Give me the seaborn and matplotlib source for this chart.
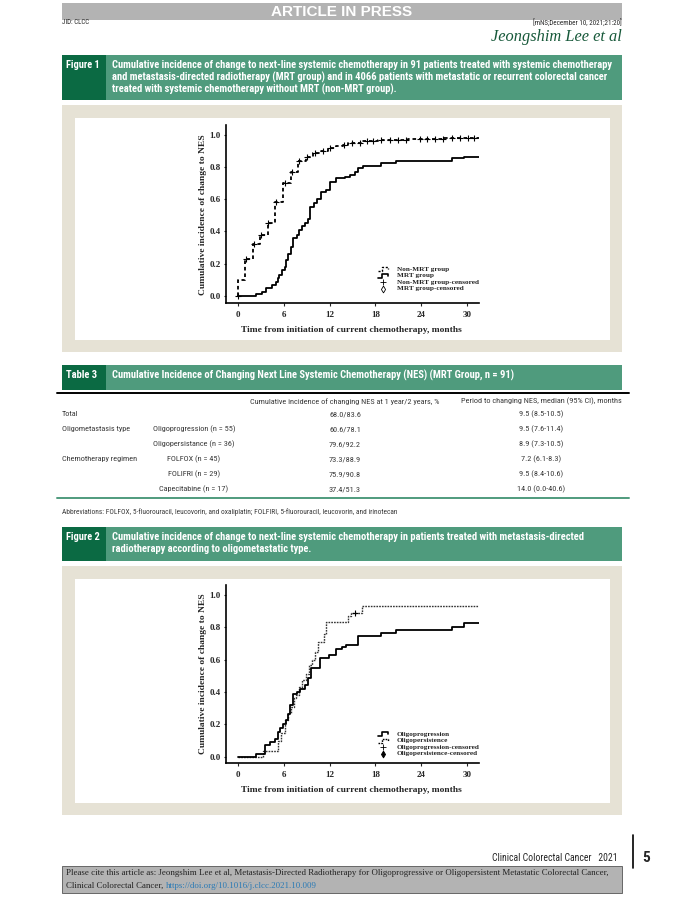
import numpy as np
import pandas as pd
import matplotlib
matplotlib.use("Agg")
import matplotlib.pyplot as plt
from matplotlib.patches import Rectangle
from matplotlib.lines import Line2D
from matplotlib import font_manager
import seaborn as sns

sns.set_style("ticks")
SERIF = ['Liberation Serif', 'DejaVu Serif']
plt.rcParams['font.family'] = SERIF

# pick a condensed sans if one is installed, otherwise Liberation Sans
_fonts = font_manager.fontManager.ttflist
_names = {f.name for f in _fonts}
NARROW_KW = {'family': ['Liberation Sans', 'DejaVu Sans']}
for cand in ['Liberation Sans Narrow', 'Roboto Condensed', 'Open Sans Condensed']:
    if cand in _names:
        NARROW_KW = {'family': [cand, 'DejaVu Sans']}
        break
else:
    for fam in ['Roboto', 'Open Sans', 'DejaVu Sans', 'Noto Sans']:
        if any(f.name == fam and 'condensed' in str(f.stretch) for f in _fonts):
            NARROW_KW = {'family': [fam], 'fontstretch': 'condensed'}
            break

W, H = 680, 897
GREEN = '#4f9b7d'
DKGREEN = '#0b6a43'
BEIGE = '#e6e2d5'
GREY = '#b3b3b3'
TCOL = '#3a3a3a'

# ---- Figure 1 data ----
mrt_t = [0, 2.3, 3.2, 3.7, 4.4, 5.0, 5.2, 5.4, 5.8, 6.1, 6.3, 6.6, 6.9, 7.2, 7.7, 8.0, 8.4,
         8.8, 9.2, 9.5, 10.0, 10.4, 10.9, 11.6, 12.1, 12.9, 14.0, 14.7, 15.3, 15.8, 16.4,
         18.8, 20.7, 28.0, 29.6, 31.6]
mrt_y = [0, 0.01, 0.02, 0.05, 0.065, 0.085, 0.11, 0.13, 0.16, 0.18, 0.22, 0.26, 0.30, 0.36,
         0.38, 0.41, 0.435, 0.455, 0.48, 0.55, 0.575, 0.60, 0.645, 0.655, 0.705, 0.73, 0.74,
         0.75, 0.77, 0.795, 0.81, 0.825, 0.84, 0.855, 0.865, 0.865]
nonmrt_t = [0, 0.05, 0.97, 1.95, 2.9, 3.9, 4.9, 5.95, 6.9, 7.9, 8.9, 9.8, 10.8, 11.8, 12.8,
            13.8, 14.4, 16.2, 18.4, 22.3, 27.0, 31.6]
nonmrt_y = [0, 0.10, 0.23, 0.32, 0.38, 0.455, 0.58, 0.70, 0.77, 0.84, 0.865, 0.885, 0.902,
            0.917, 0.929, 0.94, 0.952, 0.962, 0.97, 0.976, 0.982, 0.982]
nonmrt_cens = [0, 1.05, 2.1, 3.0, 4.0, 5.0, 6.1, 7.1, 8.0, 9.0, 10.1, 11.1, 12.1, 13.9, 14.9,
               16.0, 16.9, 17.7, 18.8, 19.9, 21.0, 22.0, 23.8, 24.8, 25.8, 26.9, 28.0, 29.1,
               30.2, 31.0]

# ---- Figure 2 data ----
prog_t = [0, 2.3, 3.6, 4.2, 4.8, 5.2, 5.5, 5.85, 6.25, 6.5, 6.8, 7.2, 7.8, 8.1, 8.8, 9.2,
          9.55, 10.7, 11.95, 12.8, 13.6, 14.2, 15.8, 18.8, 20.7, 28.0, 29.6, 31.6]
prog_y = [0, 0.015, 0.07, 0.09, 0.11, 0.155, 0.175, 0.20, 0.225, 0.265, 0.32, 0.385, 0.40,
          0.42, 0.445, 0.485, 0.55, 0.61, 0.63, 0.665, 0.68, 0.69, 0.745, 0.765, 0.785, 0.80,
          0.825, 0.825]
pers_t = [0, 3.3, 5.3, 5.7, 6.15, 6.6, 6.95, 7.3, 7.6, 8.0, 8.4, 8.9, 9.3, 9.7, 10.1, 10.5,
          11.3, 11.6, 14.4, 14.8, 16.2, 31.6]
pers_y = [0, 0.035, 0.095, 0.145, 0.225, 0.27, 0.31, 0.36, 0.38, 0.43, 0.475, 0.51, 0.565,
          0.60, 0.65, 0.71, 0.76, 0.835, 0.87, 0.89, 0.93, 0.93]
pers_cens = [15.3]

# ---- Table 3 ----
col_heads = ["Cumulative incidence of changing NES at 1 year/2 years, %",
             "Period to changing NES, median (95% CI), months"]
row_group = ["Total", "Oligometastasis type", "", "Chemotherapy regimen", "", ""]
row_sub = ["", "Oligoprogression (n = 55)", "Oligopersistance (n = 36)", "FOLFOX (n = 45)",
           "FOLIFRI (n = 29)", "Capecitabine (n = 17)"]
cum_inc = ["68.0/83.6", "60.6/78.1", "79.6/92.2", "73.3/88.9", "75.9/90.8", "37.4/51.3"]
median_period = ["9.5 (8.5-10.5)", "9.5 (7.6-11.4)", "8.9 (7.3-10.5)", "7.2 (6.1-8.3)",
                 "9.5 (8.4-10.6)", "14.0 (0.0-40.6)"]

fig = plt.figure(figsize=(6.8, 8.97), dpi=100)
renderer = fig.canvas.get_renderer()


def fx(x):
    return x / W


def fy(y):
    return 1 - y / H


def box(x0, y0, x1, y1, **kw):
    fig.patches.append(Rectangle((fx(x0), fy(y1)), (x1 - x0) / W, (y1 - y0) / H,
                                 transform=fig.transFigure, zorder=-10, **kw))


def txt(x, y, s, **kw):
    kw.setdefault('va', 'center')
    return fig.text(fx(x), fy(y), s, **kw)


def fit_size(s, width, **kw):
    # font size that makes string s about `width` pixels wide
    t = fig.text(0, 0, s, fontsize=10, **kw)
    w = t.get_window_extent(renderer).width
    t.remove()
    return 10 * width / w


def hline(x0, x1, y, **kw):
    fig.add_artist(Line2D([fx(x0), fx(x1)], [fy(y), fy(y)], transform=fig.transFigure, **kw))


def band(y0, y1, label, lines, width):
    box(62, y0, 622, y1, color=GREEN, lw=0)
    box(62, y0, 106, y1, color=DKGREEN, lw=0)
    size = min(fit_size(lines[0], width, fontweight='bold', **NARROW_KW), 7.6)
    lsize = min(fit_size(label, 34, fontweight='bold', **NARROW_KW), 7.6)
    txt(66, y0 + 10, label, fontweight='bold', fontsize=lsize, color='white', **NARROW_KW)
    for i, l in enumerate(lines):
        txt(112, y0 + 10 + i * 12.3, l, fontweight='bold', fontsize=size, color='white',
            **NARROW_KW)


def step_at(ts, ys, c):
    idx = np.searchsorted(np.asarray(ts), np.asarray(c), side='right') - 1
    return np.asarray(ys)[idx]


def km_axes(top, bottom, y0px, y1px):
    ax = fig.add_axes([fx(226), fy(bottom), 253 / W, (bottom - top) / H])
    unit = y0px - y1px
    ax.set_xlim(-1.57, 31.6)
    ax.set_ylim((y0px - bottom) / unit, (y0px - top) / unit)
    ax.patch.set_alpha(0)
    return ax


def style_axes(ax):
    ax.set_xticks([0, 6, 12, 18, 24, 30])
    ax.set_yticks([0, 0.2, 0.4, 0.6, 0.8, 1.0])
    ax.set_yticklabels(['0.0', '0.2', '0.4', '0.6', '0.8', '1.0'])
    ax.tick_params(axis='x', length=2, width=0.8, labelsize=6.5, pad=4)
    ax.tick_params(axis='y', length=1.5, width=0.8, labelsize=6.5, pad=2.5)
    for lab in ax.get_xticklabels() + ax.get_yticklabels():
        lab.set_fontweight('bold')
    sns.despine(ax=ax)
    for s in ['left', 'bottom']:
        ax.spines[s].set_linewidth(1.2)
        ax.spines[s].set_color('black')
    ax.set_xlabel("Time from initiation of current chemotherapy, months", fontsize=6.8,
                  fontweight='bold')
    ax.set_ylabel("Cumulative incidence of change to NES", fontsize=6.8, fontweight='bold')
    ax.xaxis.set_label_coords(0.494, -0.13)
    ax.yaxis.set_label_coords(-0.075, 0.5)


def legend_rows(y_first, entries):
    for i, (kind, style, label) in enumerate(entries):
        y = y_first + i * 6.6
        if kind == 'line':
            xs = [378, 382, 382, 388, 388]
            ys = [y + 2, y + 2, y - 2, y - 2, y]
            fig.add_artist(Line2D([fx(v) for v in xs], [fy(v) for v in ys],
                                  transform=fig.transFigure, color='black', **style))
        else:
            fig.add_artist(Line2D([fx(383)], [fy(y)], transform=fig.transFigure,
                                  linestyle='none', color='black', **style))
        txt(397, y, label, fontsize=5.2, fontweight='bold', family=SERIF)


# ---------------- page header ----------------
box(62, 3, 622, 20, color=GREY, lw=0)
txt(342, 11.5, "ARTICLE IN PRESS", ha='center', family=['Liberation Sans', 'DejaVu Sans'],
    fontweight='bold', fontsize=11, color='white')
txt(62, 22.5, "JID: CLCC", fontsize=5, **NARROW_KW)
txt(622, 22.5, "[mNS;December 10, 2021;21:20]", ha='right', fontsize=5, **NARROW_KW)
txt(622, 37, "Jeongshim Lee et al", ha='right', family=SERIF, style='italic',
    fontsize=11.8, color='#17593a')

# ---------------- Figure 1 ----------------
band(55, 100, "Figure 1", [
    "Cumulative incidence of change to next-line systemic chemotherapy in 91 patients treated with systemic chemotherapy",
    "and metastasis-directed radiotherapy (MRT group) and in 4066 patients with metastatic or recurrent colorectal cancer",
    "treated with systemic chemotherapy without MRT (non-MRT group)."], 505)
box(62, 105, 622, 352, color=BEIGE, lw=0)
box(75, 118, 610, 340, color='white', lw=0)

ax1 = km_axes(125.4, 303, 295.7, 135)
sns.lineplot(x=nonmrt_t, y=nonmrt_y, ax=ax1, estimator=None, drawstyle='steps-post',
             color='black', lw=1.3, linestyle=(0, (2, 1.6)))
sns.lineplot(x=mrt_t, y=mrt_y, ax=ax1, estimator=None, drawstyle='steps-post',
             color='black', lw=1.3)
sns.scatterplot(x=nonmrt_cens, y=step_at(nonmrt_t, nonmrt_y, nonmrt_cens), ax=ax1,
                marker='+', s=16, color='black', linewidth=0.8, zorder=5)
style_axes(ax1)
legend_rows(269, [
    ('line', dict(lw=1.0, linestyle=(0, (1.5, 1.2))), "Non-MRT group"),
    ('line', dict(lw=1.2), "MRT group"),
    ('mark', dict(marker='+', markersize=5, markeredgewidth=0.6), "Non-MRT group-censored"),
    ('mark', dict(marker='d', markersize=3.5, markerfacecolor='white', markeredgewidth=0.6),
     "MRT group-censored")])

# ---------------- Table 3 ----------------
band(365, 390, "Table 3",
     ["Cumulative Incidence of Changing Next Line Systemic Chemotherapy (NES) (MRT Group, n = 91)"],
     411)
hline(57, 629, 393.5, color='black', lw=1.4)
tsize = fit_size(col_heads[0], 189, **NARROW_KW)
txt(345, 401.5, col_heads[0], ha='center', fontsize=tsize, color=TCOL, **NARROW_KW)
txt(541, 401.5, col_heads[1], ha='center', fontsize=tsize, color=TCOL, **NARROW_KW)
for i in range(len(row_sub)):
    y = 414 + i * 15.1
    txt(62, y, row_group[i], fontsize=tsize, color=TCOL, **NARROW_KW)
    txt(194, y, row_sub[i], ha='center', fontsize=tsize, color=TCOL, **NARROW_KW)
    txt(345, y, cum_inc[i], ha='center', fontsize=tsize, color=TCOL, **NARROW_KW)
    txt(541, y, median_period[i], ha='center', fontsize=tsize, color=TCOL, **NARROW_KW)
hline(57, 629, 498, color=GREEN, lw=1.4)
abbr = ("Abbreviations: FOLFOX, 5-fluorouracil, leucovorin, and oxaliplatin; FOLFIRI, "
        "5-fluorouracil, leucovorin, and irinotecan")
txt(62, 512, abbr, fontsize=fit_size(abbr, 332, **NARROW_KW), color=TCOL, **NARROW_KW)

# ---------------- Figure 2 ----------------
band(527, 561, "Figure 2", [
    "Cumulative incidence of change to next-line systemic chemotherapy in patients treated with metastasis-directed",
    "radiotherapy according to oligometastatic type."], 476)
box(62, 566, 622, 815, color=BEIGE, lw=0)
box(75, 579, 610, 803, color='white', lw=0)

ax2 = km_axes(585, 763, 756.7, 595)
sns.lineplot(x=pers_t, y=pers_y, ax=ax2, estimator=None, drawstyle='steps-post',
             color='#333333', lw=1.0, linestyle=(0, (1.2, 0.8)))
sns.lineplot(x=prog_t, y=prog_y, ax=ax2, estimator=None, drawstyle='steps-post',
             color='black', lw=1.3)
sns.scatterplot(x=pers_cens, y=step_at(pers_t, pers_y, pers_cens), ax=ax2,
                marker='+', s=16, color='black', linewidth=0.8, zorder=5)
style_axes(ax2)
legend_rows(734, [
    ('line', dict(lw=1.2), "Oligoprogression"),
    ('line', dict(lw=1.0, linestyle=(0, (1.2, 0.8))), "Oligopersistence"),
    ('mark', dict(marker='+', markersize=5, markeredgewidth=0.6), "Oligoprogression-censored"),
    ('mark', dict(marker='d', markersize=3.5, markeredgewidth=0.6), "Oligopersistence-censored")])

# ---------------- footer ----------------
foot = "Clinical Colorectal Cancer   2021"
txt(618, 858, foot, ha='right', fontsize=fit_size(foot, 124, **NARROW_KW), **NARROW_KW)
fig.add_artist(Line2D([fx(633), fx(633)], [fy(835), fy(868)], transform=fig.transFigure,
                      color='black', lw=1.2))
txt(642, 858, "5", fontweight='bold', fontsize=11, **NARROW_KW)
box(62, 866, 622, 893, facecolor=GREY, edgecolor='#555555', lw=0.6)
cite1 = ("Please cite this article as: Jeongshim Lee et al, Metastasis-Directed Radiotherapy "
         "for Oligoprogressive or Oligopersistent Metastatic Colorectal Cancer,")
csize = fit_size(cite1, 540, family=SERIF)
txt(66, 873, cite1, family=SERIF, fontsize=csize, color='#222222')
t2 = txt(66, 885.5, "Clinical Colorectal Cancer, ", family=SERIF, fontsize=csize,
         color='#222222')
x_link = 66 + t2.get_window_extent(renderer).width
txt(x_link, 885.5, "https://doi.org/10.1016/j.clcc.2021.10.009", family=SERIF,
    fontsize=csize, color='#2a7ab5')

fig.savefig("out.png", dpi=100)
